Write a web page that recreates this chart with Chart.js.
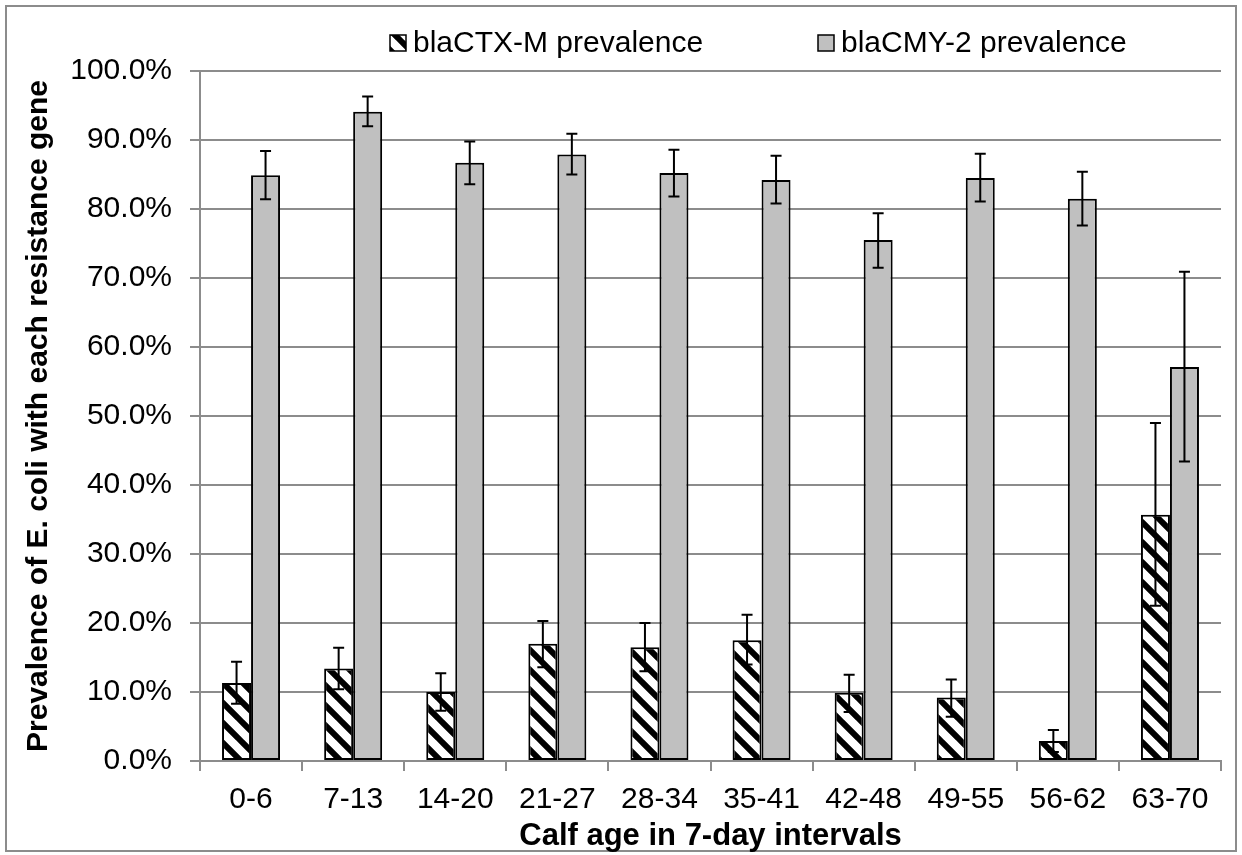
<!DOCTYPE html>
<html>
<head>
<meta charset="utf-8">
<title>Calf age prevalence</title>
<script src="https://cdn.jsdelivr.net/npm/chart.js@4.4.1/dist/chart.umd.min.js"></script>
<style>
  html, body { margin: 0; padding: 0; background: #fff; }
</style>
</head>
<body>
<canvas id="prevalenceChart" width="1242" height="855"></canvas>
<script>
// 数据
const ageGroups = ['0-6', '7-13', '14-20', '21-27', '28-34', '35-41', '42-48', '49-55', '56-62', '63-70'];

const ctxPrevalence = [11.3, 13.4, 10.0, 17.0, 16.5, 17.5, 9.9, 9.2, 2.9, 35.7];
const ctxLower = [8.3, 10.4, 7.3, 13.6, 13.0, 14.0, 7.1, 6.4, 1.3, 22.5];
const ctxUpper = [14.4, 16.4, 12.7, 20.3, 20.0, 21.2, 12.5, 11.8, 4.5, 49.0];

const cmyPrevalence = [84.9, 94.1, 86.7, 87.9, 85.2, 84.2, 75.5, 84.5, 81.5, 57.1];
const cmyLower = [81.4, 92.0, 83.6, 85.0, 81.8, 80.8, 71.5, 81.1, 77.6, 43.4];
const cmyUpper = [88.4, 96.3, 89.8, 90.9, 88.6, 87.7, 79.4, 88.0, 85.4, 70.9];

const yTicks = [0, 10, 20, 30, 40, 50, 60, 70, 80, 90, 100];

const gridGray = '#8c8c8c';
const fontFamily = '"Liberation Sans", Arial, sans-serif';

// 斜线图案
function makeHatch() {
  const size = 20;
  const c = document.createElement('canvas');
  c.width = size;
  c.height = size;
  const g = c.getContext('2d');
  g.fillStyle = '#fff';
  g.fillRect(0, 0, size, size);
  g.strokeStyle = '#000';
  g.lineWidth = 6;
  g.beginPath();
  for (let k = -1; k <= 1; k++) {
    g.moveTo(k * size - 2, -2);
    g.lineTo(k * size + size + 2, size + 2);
  }
  g.stroke();
  return document.getElementById('prevalenceChart').getContext('2d').createPattern(c, 'repeat');
}
const hatch = makeHatch();

// 外框
const frame = {
  id: 'frame',
  beforeDraw(chart) {
    const c = chart.ctx;
    c.save();
    c.fillStyle = '#fff';
    c.fillRect(0, 0, chart.width, chart.height);
    c.strokeStyle = gridGray;
    c.lineWidth = 2;
    c.strokeRect(6, 6, chart.width - 12, chart.height - 10);
    c.restore();
  }
};

// 误差线
const errorBars = {
  id: 'errorBars',
  afterDatasetsDraw(chart) {
    const c = chart.ctx;
    const y = chart.scales.y;
    c.save();
    c.strokeStyle = '#000';
    c.lineWidth = 2;
    chart.data.datasets.forEach((ds, i) => {
      chart.getDatasetMeta(i).data.forEach((bar, j) => {
        const hi = y.getPixelForValue(ds.errHigh[j]);
        const lo = y.getPixelForValue(ds.errLow[j]);
        c.beginPath();
        c.moveTo(bar.x, hi); c.lineTo(bar.x, lo);
        c.moveTo(bar.x - 5.5, hi); c.lineTo(bar.x + 5.5, hi);
        c.moveTo(bar.x - 5.5, lo); c.lineTo(bar.x + 5.5, lo);
        c.stroke();
      });
    });
    c.restore();
  }
};

// 顶部图例
const topLegend = {
  id: 'topLegend',
  afterDraw(chart, args, opts) {
    const c = chart.ctx;
    c.save();
    c.font = '30px ' + fontFamily;
    c.textBaseline = 'middle';
    chart.data.datasets.forEach((ds, i) => {
      const x = opts.x[i];
      c.fillStyle = ds.backgroundColor;
      c.fillRect(x, opts.y - 8, 16, 16);
      c.strokeStyle = '#000';
      c.lineWidth = 1.5;
      c.strokeRect(x, opts.y - 8, 16, 16);
      c.fillStyle = '#000';
      c.fillText(ds.label, x + 23, opts.y + 1);
    });
    c.restore();
  }
};

Chart.defaults.font.family = fontFamily;

new Chart(document.getElementById('prevalenceChart'), {
  type: 'bar',
  data: {
    labels: ageGroups,
    datasets: [{
      label: 'blaCTX-M prevalence',
      data: ctxPrevalence,
      errLow: ctxLower,
      errHigh: ctxUpper,
      backgroundColor: hatch,
      borderColor: '#000',
      borderWidth: 2,
      borderSkipped: false
    }, {
      label: 'blaCMY-2 prevalence',
      data: cmyPrevalence,
      errLow: cmyLower,
      errHigh: cmyUpper,
      backgroundColor: '#c0c0c0',
      borderColor: '#000',
      borderWidth: 2,
      borderSkipped: false
    }]
  },
  options: {
    responsive: false,
    animation: false,
    devicePixelRatio: 1,
    categoryPercentage: 0.568,
    barPercentage: 1.0,
    layout: { padding: { top: 71, right: 21, bottom: 0, left: 0 } },
    plugins: {
      legend: { display: false },
      tooltip: { enabled: false },
      topLegend: { x: [390, 818], y: 43 }
    },
    scales: {
      x: {
        grid: { offset: true, drawOnChartArea: false, drawTicks: true, tickLength: 10, color: gridGray, lineWidth: 2 },
        border: { display: true, color: gridGray, width: 2 },
        ticks: { color: '#000', padding: 11, font: { size: 30 }, maxRotation: 0, autoSkip: false },
        title: {
          display: true,
          text: 'Calf age in 7-day intervals',
          color: '#000',
          font: { size: 31, weight: 'bold' },
          padding: { top: 0, bottom: 0 }
        },
        afterFit(scale) { scale.height = 94; }
      },
      y: {
        min: 0,
        max: 100,
        afterBuildTicks(scale) { scale.ticks = yTicks.map(v => ({ value: v })); },
        ticks: { padding: 18, color: '#000', font: { size: 30 }, callback: v => v.toFixed(1) + '%' },
        grid: { color: gridGray, lineWidth: 2, tickLength: 10 },
        border: { display: true, color: gridGray, width: 2 },
        title: {
          display: true,
          text: 'Prevalence of E. coli with each resistance gene',
          color: '#000',
          font: { size: 30, weight: 'bold' },
          padding: { top: 21, bottom: 0 }
        },
        afterFit(scale) { scale.width = 200; }
      }
    }
  },
  plugins: [frame, errorBars, topLegend]
});
</script>
</body>
</html>
